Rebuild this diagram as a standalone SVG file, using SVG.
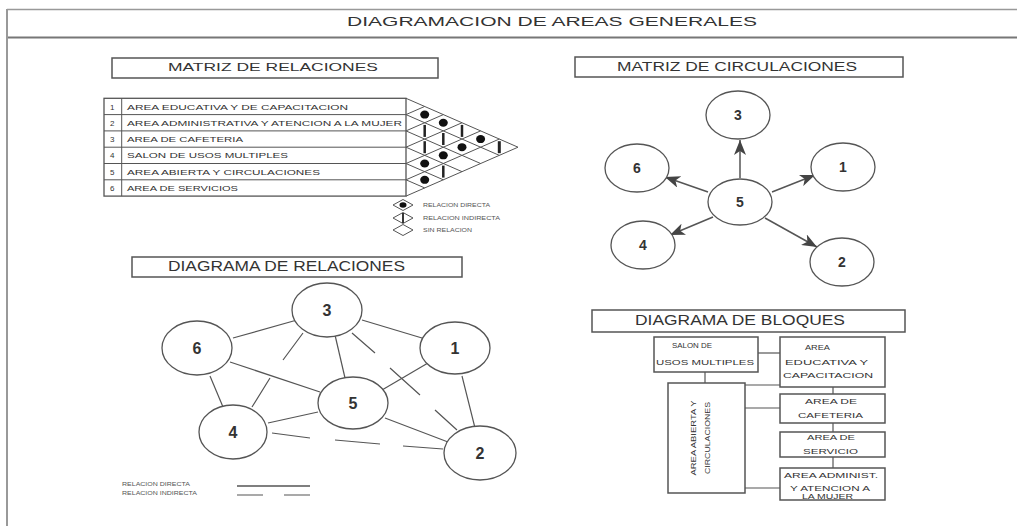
<svg xmlns="http://www.w3.org/2000/svg" width="1017" height="526" viewBox="0 0 1017 526">
<defs>
<style>
.t{font-family:"Liberation Sans",Arial,sans-serif;fill:#333}
.h{font-size:13px}
.s{font-size:8px}
.xs{font-size:5px;fill:#555}
.num{font-family:"Liberation Sans",Arial,sans-serif;font-weight:bold;fill:#333;text-anchor:middle}
.box{fill:#fff;stroke:#555;stroke-width:1.5}
.ln{stroke:#555;stroke-width:1.2;fill:none}
.grid{stroke:#555;stroke-width:1;fill:none}
.circ{fill:#fff;stroke:#555;stroke-width:1.3}
.dot{fill:#111}
.bar{stroke:#222;stroke-width:2.5}
.arr{stroke:#555;stroke-width:1.5;fill:none;marker-end:url(#ah)}
</style>
<marker id="ah" markerUnits="userSpaceOnUse" markerWidth="16" markerHeight="12" refX="15" refY="6" orient="auto">
<path d="M0,0 L15,6 L0,12 L4,6 z" fill="#444"/>
</marker>
</defs>
<rect width="1017" height="526" fill="#fff"/>

<!-- frame -->
<g id="frame">
<line x1="7" y1="9.5" x2="1017" y2="9.5" stroke="#999" stroke-width="1.5"/>
<line x1="7" y1="37.5" x2="1017" y2="37.5" stroke="#777" stroke-width="2"/>
<line x1="7" y1="9" x2="7" y2="526" stroke="#999" stroke-width="2"/>
<text class="t h" x="347" y="25.5" textLength="410" lengthAdjust="spacingAndGlyphs">DIAGRAMACION DE AREAS GENERALES</text>
</g>

<!-- MATRIZ DE RELACIONES -->
<g id="matriz-relaciones-title">
<rect class="box" x="112" y="58" width="326" height="20"/>
<text class="t" style="font-size:11px" x="168" y="71" textLength="210" lengthAdjust="spacingAndGlyphs">MATRIZ DE RELACIONES</text>
</g>
<g id="matriz-table">
<rect x="104" y="98.3" width="302" height="97.8" fill="none" stroke="#555" stroke-width="1.3"/>
<line class="grid" x1="121.7" y1="98.3" x2="121.7" y2="196.1"/>
<line class="grid" x1="104" y1="114.6" x2="406" y2="114.6"/>
<line class="grid" x1="104" y1="130.9" x2="406" y2="130.9"/>
<line class="grid" x1="104" y1="147.2" x2="406" y2="147.2"/>
<line class="grid" x1="104" y1="163.5" x2="406" y2="163.5"/>
<line class="grid" x1="104" y1="179.8" x2="406" y2="179.8"/>
<g class="t s">
<text x="110" y="109.5">1</text>
<text x="110" y="125.8">2</text>
<text x="110" y="142.1">3</text>
<text x="110" y="158.4">4</text>
<text x="110" y="174.7">5</text>
<text x="110" y="191">6</text>
<text x="127" y="109.5" textLength="221" lengthAdjust="spacingAndGlyphs">AREA EDUCATIVA Y DE CAPACITACION</text>
<text x="127" y="125.8" textLength="275" lengthAdjust="spacingAndGlyphs">AREA ADMINISTRATIVA Y ATENCION A LA MUJER</text>
<text x="127" y="142.1" textLength="116" lengthAdjust="spacingAndGlyphs">AREA DE CAFETERIA</text>
<text x="127" y="158.4" textLength="161" lengthAdjust="spacingAndGlyphs">SALON DE USOS MULTIPLES</text>
<text x="127" y="174.7" textLength="193" lengthAdjust="spacingAndGlyphs">AREA ABIERTA Y CIRCULACIONES</text>
<text x="127" y="191" textLength="111" lengthAdjust="spacingAndGlyphs">AREA DE SERVICIOS</text>
</g>
</g>
<g id="matriz-triangle">
<g class="grid">
<line x1="406" y1="98.3" x2="518" y2="147.2"/>
<line x1="406" y1="114.6" x2="499.3" y2="155.35"/>
<line x1="406" y1="130.9" x2="480.6" y2="163.5"/>
<line x1="406" y1="147.2" x2="462" y2="171.65"/>
<line x1="406" y1="163.5" x2="443.3" y2="179.8"/>
<line x1="406" y1="179.8" x2="424.7" y2="187.95"/>
<line x1="406" y1="114.6" x2="424.7" y2="106.45"/>
<line x1="406" y1="130.9" x2="443.3" y2="114.6"/>
<line x1="406" y1="147.2" x2="462" y2="122.75"/>
<line x1="406" y1="163.5" x2="480.6" y2="130.9"/>
<line x1="406" y1="179.8" x2="499.3" y2="139.05"/>
<line x1="406" y1="196.1" x2="518" y2="147.2"/>
</g>
<ellipse class="dot" cx="424.7" cy="114.6" rx="4.5" ry="4"/>
<ellipse class="dot" cx="443.3" cy="122.75" rx="4.5" ry="4"/>
<ellipse class="dot" cx="480.6" cy="139.05" rx="4.5" ry="4"/>
<ellipse class="dot" cx="462" cy="147.2" rx="4.5" ry="4"/>
<ellipse class="dot" cx="443.3" cy="155.35" rx="4.5" ry="4"/>
<ellipse class="dot" cx="424.7" cy="163.5" rx="4.5" ry="4"/>
<ellipse class="dot" cx="424.7" cy="179.8" rx="4.5" ry="4"/>
<line class="bar" x1="424.7" y1="124.9" x2="424.7" y2="136.9"/>
<line class="bar" x1="443.3" y1="133" x2="443.3" y2="145"/>
<line class="bar" x1="462" y1="124.9" x2="462" y2="136.9"/>
<line class="bar" x1="499.3" y1="141.2" x2="499.3" y2="153.2" style="stroke-width:3"/>
<line class="bar" x1="424.7" y1="141.2" x2="424.7" y2="153.2"/>
<line class="bar" x1="443.3" y1="165.6" x2="443.3" y2="177.6"/>
</g>
<g id="matriz-legend">
<polygon class="grid" points="393,205 403,199.5 413,205 403,210.5"/>
<ellipse class="dot" cx="403" cy="205" rx="3.5" ry="2.8"/>
<polygon class="grid" points="393,218 403,212.5 413,218 403,223.5"/>
<line class="bar" style="stroke-width:1.8" x1="403" y1="213" x2="403" y2="223"/>
<polygon class="grid" points="393,230 403,224.5 413,230 403,235.5"/>
<text class="t xs" x="423" y="207" textLength="67" lengthAdjust="spacingAndGlyphs">RELACION DIRECTA</text>
<text class="t xs" x="423" y="220" textLength="77" lengthAdjust="spacingAndGlyphs">RELACION INDIRECTA</text>
<text class="t xs" x="423" y="232" textLength="49" lengthAdjust="spacingAndGlyphs">SIN RELACION</text>
</g>

<!-- MATRIZ DE CIRCULACIONES -->
<g id="matriz-circulaciones-title">
<rect class="box" x="575" y="57" width="328" height="20"/>
<text class="t" style="font-size:12px" x="617" y="71" textLength="240" lengthAdjust="spacingAndGlyphs">MATRIZ DE CIRCULACIONES</text>
</g>
<g id="circulaciones-connectors">
<line class="arr" x1="740" y1="178" x2="740" y2="140"/>
<line class="arr" x1="708" y1="192" x2="665" y2="177"/>
<line class="arr" x1="772" y1="192" x2="815" y2="175"/>
<line class="arr" x1="713" y1="217" x2="670" y2="235"/>
<line class="arr" x1="765" y1="218" x2="817" y2="247"/>
</g>
<g id="c-3"><ellipse class="circ" cx="738" cy="115" rx="32" ry="24"/><text class="num" style="font-size:14px" x="738" y="120">3</text></g>
<g id="c-6"><ellipse class="circ" cx="637" cy="168" rx="32" ry="24"/><text class="num" style="font-size:14px" x="637" y="173">6</text></g>
<g id="c-1"><ellipse class="circ" cx="843" cy="167" rx="32" ry="24"/><text class="num" style="font-size:14px" x="843" y="172">1</text></g>
<g id="c-5"><ellipse class="circ" cx="740" cy="202" rx="32" ry="23"/><text class="num" style="font-size:14px" x="740" y="207">5</text></g>
<g id="c-4"><ellipse class="circ" cx="643" cy="245" rx="32" ry="24"/><text class="num" style="font-size:14px" x="643" y="250">4</text></g>
<g id="c-2"><ellipse class="circ" cx="842" cy="262" rx="32" ry="24"/><text class="num" style="font-size:14px" x="842" y="267">2</text></g>

<!-- DIAGRAMA DE RELACIONES -->
<g id="diagrama-relaciones-title">
<rect class="box" x="132" y="257" width="330" height="20"/>
<text class="t" style="font-size:14px" x="168" y="271" textLength="237" lengthAdjust="spacingAndGlyphs">DIAGRAMA DE RELACIONES</text>
</g>
<g id="relaciones-connectors" class="ln">
<line x1="297" y1="320" x2="233" y2="338"/>
<line x1="362" y1="320" x2="422" y2="338"/>
<line x1="335" y1="335" x2="345" y2="378"/>
<line x1="230" y1="362" x2="320" y2="392"/>
<line x1="210" y1="376" x2="223" y2="407"/>
<line x1="428" y1="363" x2="382" y2="390"/>
<line x1="462" y1="376" x2="475" y2="428"/>
<line x1="318" y1="412" x2="268" y2="423"/>
<line x1="385" y1="418" x2="448" y2="442"/>
<path d="M303,333 L283,360 M270,378 L252,407"/>
<path d="M352,333 L375,353 M390,368 L420,395 M435,410 L457,430"/>
<path d="M272,433 L310,438 M335,440 L380,444 M403,446 L443,449"/>
</g>
<g id="r-3"><ellipse class="circ" cx="327" cy="310" rx="35" ry="27"/><text class="num" style="font-size:16px" x="327" y="316">3</text></g>
<g id="r-6"><ellipse class="circ" cx="197" cy="348" rx="35" ry="27"/><text class="num" style="font-size:16px" x="197" y="354">6</text></g>
<g id="r-1"><ellipse class="circ" cx="455" cy="348" rx="35" ry="26"/><text class="num" style="font-size:16px" x="455" y="354">1</text></g>
<g id="r-5"><ellipse class="circ" cx="353" cy="403" rx="35" ry="26"/><text class="num" style="font-size:16px" x="353" y="409">5</text></g>
<g id="r-4"><ellipse class="circ" cx="233" cy="432" rx="34" ry="27"/><text class="num" style="font-size:16px" x="233" y="438">4</text></g>
<g id="r-2"><ellipse class="circ" cx="480" cy="453" rx="36" ry="27"/><text class="num" style="font-size:16px" x="480" y="459">2</text></g>
<g id="relaciones-legend">
<text class="t xs" x="122" y="486" textLength="68" lengthAdjust="spacingAndGlyphs">RELACION DIRECTA</text>
<text class="t xs" x="122" y="495" textLength="75" lengthAdjust="spacingAndGlyphs">RELACION INDIRECTA</text>
<line class="ln" x1="237" y1="486" x2="310" y2="486" style="stroke-width:1.6"/>
<path class="ln" d="M237,495 L263,495 M284,495 L310,495"/>
</g>

<!-- DIAGRAMA DE BLOQUES -->
<g id="diagrama-bloques-title">
<rect class="box" x="592" y="310" width="313" height="22"/>
<text class="t" style="font-size:15px" x="635" y="325" textLength="210" lengthAdjust="spacingAndGlyphs">DIAGRAMA DE BLOQUES</text>
</g>
<g id="bloques-connectors" class="ln">
<line x1="758" y1="353" x2="780" y2="353"/>
<line x1="705" y1="372" x2="705" y2="383"/>
<line x1="745" y1="385" x2="780" y2="385"/>
<line x1="833" y1="387" x2="833" y2="394"/>
<line x1="745" y1="408" x2="780" y2="408"/>
<line x1="833" y1="423" x2="833" y2="432"/>
<line x1="833" y1="457" x2="833" y2="468"/>
<line x1="745" y1="488" x2="780" y2="488"/>
</g>
<g id="b-salon">
<rect class="box" x="654" y="337" width="104" height="35"/>
<text class="t s" x="672" y="348" textLength="40" lengthAdjust="spacingAndGlyphs">SALON DE</text>
<text class="t s" x="656" y="365" textLength="98" lengthAdjust="spacingAndGlyphs">USOS MULTIPLES</text>
</g>
<g id="b-educativa">
<rect class="box" x="780" y="337" width="105" height="50"/>
<text class="t s" x="805" y="350" textLength="25" lengthAdjust="spacingAndGlyphs">AREA</text>
<text class="t s" x="785" y="365" textLength="83" lengthAdjust="spacingAndGlyphs">EDUCATIVA Y</text>
<text class="t s" x="783" y="378" textLength="90" lengthAdjust="spacingAndGlyphs">CAPACITACION</text>
</g>
<g id="b-abierta">
<rect class="box" x="668" y="383" width="77" height="110"/>
<g transform="translate(700,438) rotate(-90)">
<text class="t s" x="0" y="-4" text-anchor="middle" textLength="75" lengthAdjust="spacingAndGlyphs">AREA ABIERTA Y</text>
<text class="t s" x="0" y="10" text-anchor="middle" textLength="72" lengthAdjust="spacingAndGlyphs">CIRCULACIONES</text>
</g>
</g>
<g id="b-cafeteria">
<rect class="box" x="780" y="394" width="105" height="29"/>
<text class="t s" x="805" y="404" textLength="52" lengthAdjust="spacingAndGlyphs">AREA DE</text>
<text class="t s" x="798" y="418" textLength="65" lengthAdjust="spacingAndGlyphs">CAFETERIA</text>
</g>
<g id="b-servicio">
<rect class="box" x="780" y="432" width="105" height="25"/>
<text class="t s" x="807" y="440" textLength="48" lengthAdjust="spacingAndGlyphs">AREA DE</text>
<text class="t s" x="803" y="454" textLength="55" lengthAdjust="spacingAndGlyphs">SERVICIO</text>
</g>
<g id="b-administ">
<rect class="box" x="780" y="468" width="105" height="32"/>
<text class="t s" x="784" y="478" textLength="94" lengthAdjust="spacingAndGlyphs">AREA ADMINIST.</text>
<text class="t s" x="790" y="491" textLength="80" lengthAdjust="spacingAndGlyphs">Y ATENCION A</text>
<text class="t s" x="802" y="499" textLength="51" lengthAdjust="spacingAndGlyphs">LA MUJER</text>
</g>
</svg>
